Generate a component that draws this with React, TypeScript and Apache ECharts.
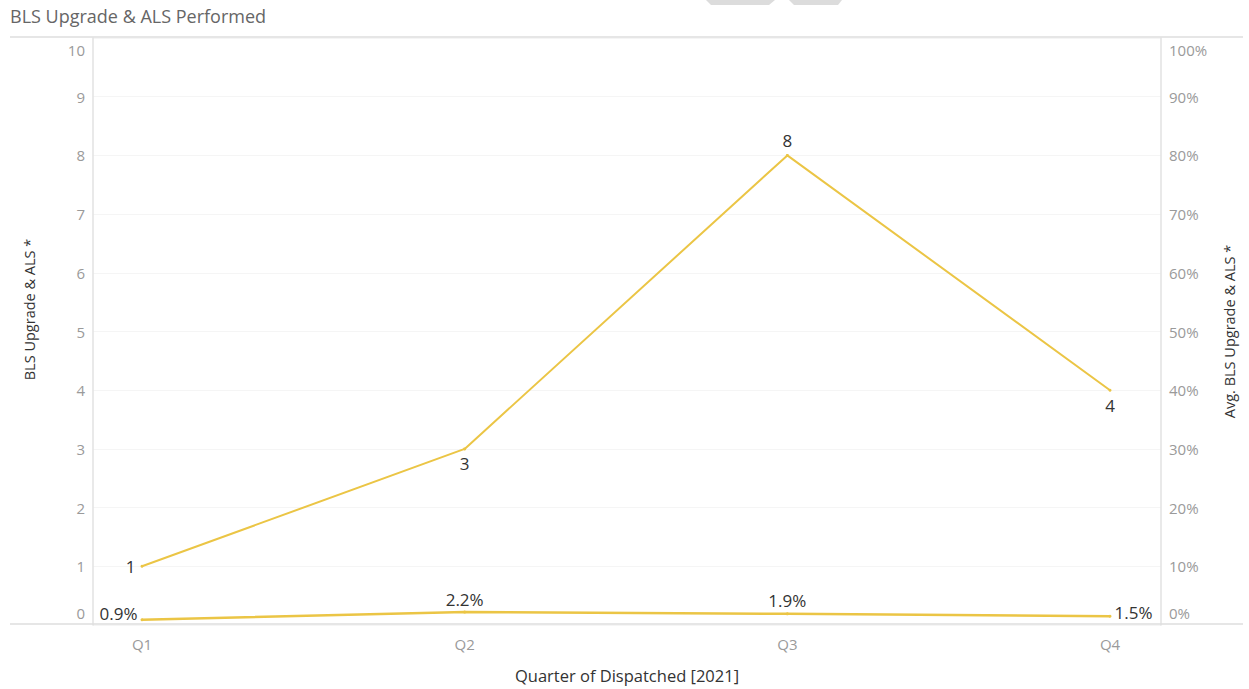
import React, { useEffect, useRef } from "react";
import * as echarts from "echarts";

// Quarterly counts and average rate of BLS upgrades with ALS performed, 2021
const quarters = ["Q1", "Q2", "Q3", "Q4"];
const blsAlsCount = [1, 3, 8, 4];
const avgBlsAlsRate = [0.009, 0.022, 0.019, 0.015];
const countLabelPos = ["left", "bottom", "top", "bottom"];
const rateLabelPos = ["left", "top", "top", "right"];
const rateLabelOffset = [[0, -6], [0, 0], [0, 0], [0, -4]];
const leftTicks = [0, 1, 2, 3, 4, 5, 6, 7, 8, 9, 10];

const W = 1249;
const H = 689;
const GRID_LEFT = 93;
const GRID_RIGHT_X = 1161;
const GRID_TOP = 38;
const GRID_BOTTOM_Y = 625;
const FIRST_X = 142;
const LAST_X = 1110;

const FONT = "'Open Sans', 'Noto Sans', sans-serif";
const LINE_COLOR = "#EBC545";
const TICK_COLOR = "#9a9a9a";

export default function App() {
  const ref = useRef<HTMLDivElement>(null);

  useEffect(() => {
    if (!ref.current) return;
    const chart = echarts.init(ref.current, undefined, { renderer: "svg" });

    // place the first and last quarter inside the plot with Tableau-like padding
    const step = (LAST_X - FIRST_X) / (quarters.length - 1);
    const xMin = -(FIRST_X - GRID_LEFT) / step;
    const xMax = quarters.length - 1 + (GRID_RIGHT_X - LAST_X) / step;

    const tickLabel = {
      color: TICK_COLOR,
      fontSize: 15,
      lineHeight: 24,
      margin: 8,
      fontFamily: FONT,
      verticalAlignMinLabel: "bottom",
      verticalAlignMaxLabel: "top",
    };

    chart.setOption({
      animation: false,
      backgroundColor: "#ffffff",
      textStyle: { fontFamily: FONT },
      grid: {
        left: GRID_LEFT,
        right: W - GRID_RIGHT_X,
        top: GRID_TOP,
        bottom: H - GRID_BOTTOM_Y,
        containLabel: false,
      },
      graphic: [
        {
          type: "text",
          left: 10,
          top: 7,
          style: {
            text: "BLS Upgrade & ALS Performed",
            fill: "#666",
            font: `18px ${FONT}`,
          },
        },
        {
          type: "line",
          shape: { x1: 10, y1: GRID_TOP - 1, x2: 1243, y2: GRID_TOP - 1 },
          style: { stroke: "#dedede", lineWidth: 1.5 },
          z: 1,
        },
        {
          type: "line",
          shape: { x1: 10, y1: GRID_BOTTOM_Y - 1, x2: 1243, y2: GRID_BOTTOM_Y - 1 },
          style: { stroke: "#dedede", lineWidth: 1.5 },
          z: 1,
        },
        {
          type: "polygon",
          shape: { points: [[706, 0], [775, 0], [769, 5], [711, 5]] },
          style: { fill: "#dcdcdc" },
        },
        {
          type: "polygon",
          shape: { points: [[789, 0], [842, 0], [838, 5], [794, 5]] },
          style: { fill: "#dcdcdc" },
        },
      ],
      xAxis: {
        type: "value",
        min: xMin,
        max: xMax,
        axisLine: { show: false },
        axisTick: { show: false },
        splitLine: { show: false },
        axisLabel: {
          customValues: quarters.map((_, i) => i),
          formatter: (v: number) => quarters[Math.round(v)] ?? "",
          color: TICK_COLOR,
          fontSize: 15,
          margin: 11,
          fontFamily: FONT,
        },
        name: "Quarter of Dispatched [2021]",
        nameLocation: "middle",
        nameGap: 42,
        nameTextStyle: { color: "#333", fontSize: 16.5, fontFamily: FONT },
      },
      yAxis: [
        {
          type: "value",
          min: leftTicks[0],
          max: leftTicks[leftTicks.length - 1],
          interval: 1,
          position: "left",
          axisLine: {
            show: true,
            onZero: false,
            lineStyle: { color: "#e2e2e2", width: 1.5 },
          },
          axisTick: { show: false },
          splitLine: { show: true, lineStyle: { color: "#f5f5f5", width: 1 } },
          axisLabel: tickLabel,
          name: "BLS Upgrade & ALS *",
          nameLocation: "middle",
          nameRotate: 90,
          nameGap: 56,
          nameTextStyle: {
            color: "#333",
            fontSize: 14.5,
            fontFamily: FONT,
            padding: [0, 0, 0, 44],
          },
        },
        {
          type: "value",
          min: 0,
          max: 1,
          interval: 0.1,
          position: "right",
          axisLine: {
            show: true,
            onZero: false,
            lineStyle: { color: "#e2e2e2", width: 1.5 },
          },
          axisTick: { show: false },
          splitLine: { show: false },
          axisLabel: {
            ...tickLabel,
            formatter: (v: number) => `${Math.round(v * 100)}%`,
          },
          name: "Avg. BLS Upgrade & ALS *",
          nameLocation: "middle",
          nameRotate: 90,
          nameGap: 61,
          nameTextStyle: { color: "#333", fontSize: 14.5, fontFamily: FONT },
        },
      ],
      series: [
        {
          name: "BLS Upgrade & ALS",
          type: "line",
          yAxisIndex: 0,
          data: blsAlsCount.map((v, i) => ({
            value: [i, v],
            label: { position: countLabelPos[i] },
          })),
          symbol: "circle",
          symbolSize: 3,
          itemStyle: { color: LINE_COLOR },
          lineStyle: { color: LINE_COLOR, width: 2 },
          label: {
            show: true,
            color: "#333",
            fontSize: 17,
            fontFamily: FONT,
            distance: 5,
            formatter: (p: any) => String(p.value[1]),
          },
          z: 3,
        },
        {
          name: "Avg. BLS Upgrade & ALS",
          type: "line",
          yAxisIndex: 1,
          data: avgBlsAlsRate.map((v, i) => ({
            value: [i, v],
            label: { position: rateLabelPos[i], offset: rateLabelOffset[i] },
          })),
          symbol: "circle",
          symbolSize: 3,
          itemStyle: { color: LINE_COLOR },
          lineStyle: { color: LINE_COLOR, width: 2.5 },
          label: {
            show: true,
            color: "#333",
            fontSize: 17,
            fontFamily: FONT,
            distance: 3,
            formatter: (p: any) => `${(p.value[1] * 100).toFixed(1)}%`,
          },
          z: 3,
        },
      ],
    });

    return () => chart.dispose();
  }, []);

  return (
    <div
      ref={ref}
      style={{ position: "fixed", left: 0, top: 0, width: W, height: H }}
    />
  );
}
